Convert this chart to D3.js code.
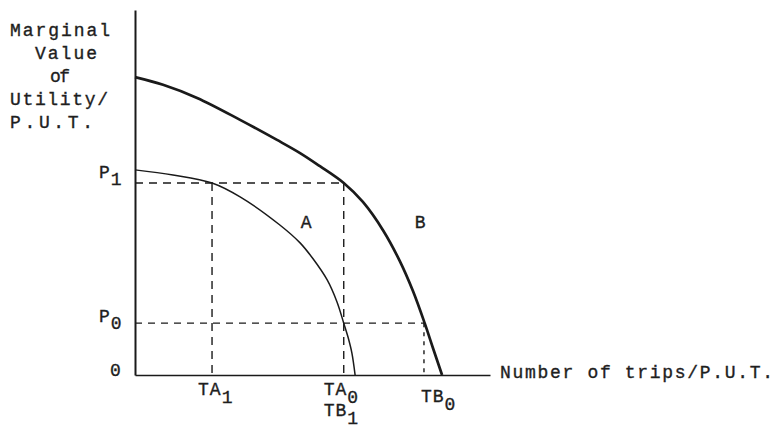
<!DOCTYPE html>
<html>
<head>
<meta charset="utf-8">
<script src="https://cdn.jsdelivr.net/npm/d3@7"></script>
<style>
  html, body { margin: 0; padding: 0; background: #ffffff; }
  svg { display: block; }
  text { font-family: "Liberation Mono", "DejaVu Sans Mono", monospace; fill: #1e1e1e;
         stroke: #1e1e1e; stroke-width: 0.35px; }
</style>
</head>
<body>
<svg id="chart" width="776" height="430"></svg>
<script>
// Marginal value schedules for the two travel groups (x: trips, y: value)
const curveA = [[0, 56.2], [10.7, 54.8], [21.7, 52.6], [29.6, 48.8], [40.8, 41.1], [46.5, 36.2],
                [50.1, 31.9], [54.1, 26.1], [56.9, 20.0], [58.8, 14.2], [60.0, 10.4],
                [61.1, 6.0], [62.0, 0]];
const curveB = [[0, 81.6], [7.9, 79.5], [17.5, 75.9], [29.6, 69.9], [40.0, 64.4], [46.5, 60.8],
                [52.1, 57.2], [58.8, 52.6], [64.2, 47.4], [69.9, 39.6], [74.6, 31.2],
                [78.3, 23.0], [81.6, 14.2], [84.0, 7.2], [86.5, 0]];

// Price levels and the trip quantities they produce
const priceNames = ["P1", "P0"];
const priceValues = [52.6, 14.2];
const tripNames = ["TA1", "TA0", "TB1", "TB0"];
const tripValues = [21.7, 58.8, 58.8, 81.4];

// Axis titles
const yTitleLines = ["Marginal", "Value", "of", "Utility/", "P.U.T."];
const xTitle = "Number of trips/P.U.T.";
const originLabel = "0";
const curveNames = ["A", "B"];

const svg = d3.select("#chart");

const x = d3.scaleLinear().domain([0, 100]).range([135, 490]);
const y = d3.scaleLinear().domain([0, 100]).range([375, 10]);

const ink = "#1a1a1a";
const price = Object.fromEntries(priceNames.map((n, i) => [n, priceValues[i]]));
const trip = Object.fromEntries(tripNames.map((n, i) => [n, tripValues[i]]));

// Dashed guide lines from each price to the curves and down to the trip axis
const guides = [
  { pts: [[0, price.P1], [trip.TA0, price.P1]], dash: "8,6" },
  { pts: [[trip.TA1, price.P1], [trip.TA1, 0]], dash: "8,6" },
  { pts: [[trip.TA0, price.P1], [trip.TA0, 0]], dash: "8,6" },
  { pts: [[0, price.P0], [trip.TB0, price.P0]], dash: "7,6" },
  { pts: [[trip.TB0, price.P0], [trip.TB0, 0]], dash: "4,5" }
];
const seg = d3.line().x(d => x(d[0])).y(d => y(d[1]));
svg.append("g").selectAll("path").data(guides).join("path")
  .attr("d", d => seg(d.pts))
  .attr("fill", "none")
  .attr("stroke", ink)
  .attr("stroke-width", 1.4)
  .attr("stroke-dasharray", d => d.dash);

// Axes drawn as bare domain lines
const yAxis = svg.append("g").attr("transform", `translate(${x(0)},0)`)
  .call(d3.axisLeft(y).tickValues([]).tickSizeOuter(0));
yAxis.select(".domain").attr("stroke", ink).attr("stroke-width", 2);
const xAxis = svg.append("g").attr("transform", `translate(0,${y(0)})`)
  .call(d3.axisBottom(x).tickValues([]).tickSizeOuter(0));
xAxis.select(".domain").attr("stroke", ink).attr("stroke-width", 1.6);

// Curves
const curve = d3.line().x(d => x(d[0])).y(d => y(d[1])).curve(d3.curveCatmullRom.alpha(0.5));
svg.append("path").attr("d", curve(curveA))
  .attr("fill", "none").attr("stroke", ink).attr("stroke-width", 1.5);
svg.append("path").attr("d", curve(curveB))
  .attr("fill", "none").attr("stroke", ink).attr("stroke-width", 2.7);

const fs = 18;

// Y-axis title, one line per row
const yTitleLayout = [
  { x: 10, w: 100 }, { x: 35, w: 62 }, { x: 50, w: 20 }, { x: 10, w: 98 }, { x: 10, w: 83 }
];
svg.append("g").selectAll("text").data(yTitleLines).join("text")
  .attr("x", (d, i) => yTitleLayout[i].x)
  .attr("y", (d, i) => 36 + i * 23)
  .attr("font-size", fs)
  .attr("textLength", (d, i) => yTitleLayout[i].w)
  .attr("lengthAdjust", "spacing")
  .text(d => d);

// X-axis title
svg.append("text")
  .attr("x", x(100) + 10).attr("y", y(0) + 3)
  .attr("font-size", fs)
  .attr("textLength", 273).attr("lengthAdjust", "spacing")
  .text(xTitle);

// Origin
svg.append("text").attr("x", x(0) - 25).attr("y", y(0) + 1)
  .attr("font-size", fs).text(originLabel);

// Price labels with subscripts
const priceShift = { P1: -5, P0: -1 };
priceNames.forEach((name, i) => {
  const t = svg.append("text")
    .attr("x", x(0) - 36).attr("y", y(priceValues[i]) + priceShift[name])
    .attr("font-size", fs);
  t.append("tspan").text(name[0]);
  t.append("tspan").attr("dx", 1).attr("dy", 7).text(name.slice(1));
});

// Trip labels with subscripts; TB1 sits below the coincident TA0
const tripLayout = { TA1: { dx: -14, dy: 20 }, TA0: { dx: -20, dy: 20 },
                     TB1: { dx: -20, dy: 41 }, TB0: { dx: -3, dy: 27 } };
tripNames.forEach((name, i) => {
  const L = tripLayout[name];
  const t = svg.append("text")
    .attr("x", x(tripValues[i]) + L.dx)
    .attr("y", y(0) + L.dy)
    .attr("font-size", fs)
    .attr("letter-spacing", 1);
  t.append("tspan").text(name.slice(0, 2));
  t.append("tspan").attr("dy", 8).text(name.slice(2));
});

// Curve names
const namePos = [[48.2, 40.3], [80.3, 40.3]];
svg.append("g").selectAll("text").data(curveNames).join("text")
  .attr("x", (d, i) => x(namePos[i][0]))
  .attr("y", (d, i) => y(namePos[i][1]))
  .attr("font-size", fs)
  .attr("text-anchor", "middle")
  .text(d => d);
</script>
</body>
</html>
